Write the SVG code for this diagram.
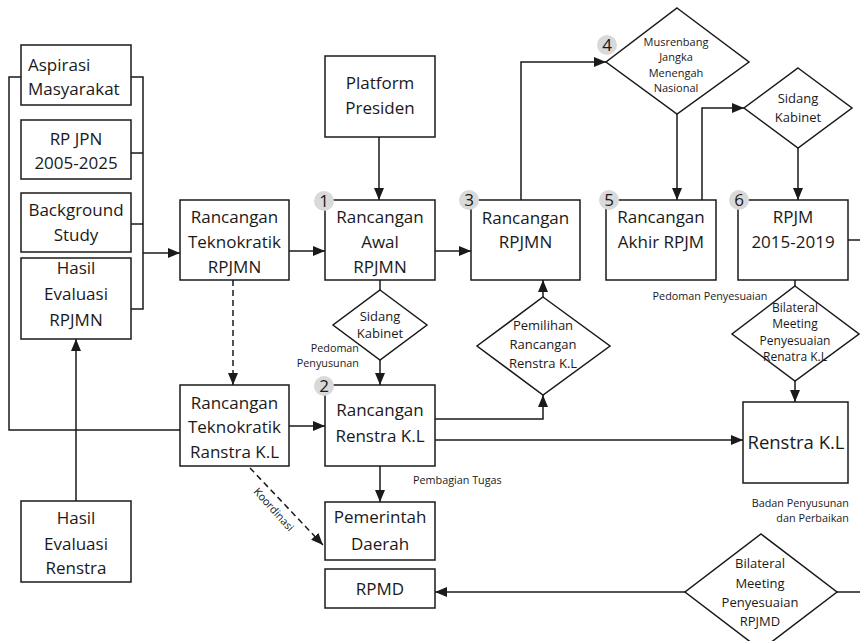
<svg xmlns="http://www.w3.org/2000/svg" width="860" height="641" viewBox="0 0 860 641">
  <style>
    .box { fill: #ffffff; stroke: #1a1a1a; stroke-width: 1.5; }
    .dia { fill: #ffffff; stroke: #1a1a1a; stroke-width: 1.5; }
    .ln { fill: none; stroke: #1a1a1a; stroke-width: 1.5; }
    .dash { stroke-dasharray: 6 4; }
    text { font-family: "Open Sans", "Noto Sans", sans-serif; fill: #1a1a1a; }
    .t { font-size: 17px; text-anchor: middle; }
    .tl { font-size: 17px; text-anchor: start; }
    .big { font-size: 18.5px; text-anchor: middle; }
    .d13 { font-size: 13px; text-anchor: middle; }
    .d12 { font-size: 12px; text-anchor: middle; }
    .d11 { font-size: 11px; text-anchor: middle; }
    .lbl { font-size: 10.8px; }
    .badge { fill: #d9d9d9; }
    .bn { font-size: 17px; text-anchor: middle; }
  </style>
  <defs>
    <marker id="arrow" viewBox="0 0 12 10" refX="12" refY="5" markerWidth="12" markerHeight="10" markerUnits="userSpaceOnUse" orient="auto">
      <path d="M0,0 L12,5 L0,10 z" fill="#1a1a1a"/>
    </marker>
  </defs>

  <!-- connectors -->
  <g id="connectors">
    <path class="ln" d="M21,77 H9 V430 H180"/>
    <path class="ln" d="M131,77 H143 V309 H131 M131,153 H143 M131,224 H143"/>
    <path class="ln" d="M143,253 H180" marker-end="url(#arrow)"/>
    <path class="ln" d="M76,501 V339" marker-end="url(#arrow)"/>
    <path class="ln" d="M289,251 H325" marker-end="url(#arrow)"/>
    <path class="ln" d="M379,137 V200" marker-end="url(#arrow)"/>
    <path class="ln" d="M435,251 H471" marker-end="url(#arrow)"/>
    <path class="ln" d="M521,200 V62 H606" marker-end="url(#arrow)"/>
    <path class="ln" d="M677,114 V200" marker-end="url(#arrow)"/>
    <path class="ln" d="M702,200 V108 H744" marker-end="url(#arrow)"/>
    <path class="ln" d="M798,148 V200" marker-end="url(#arrow)"/>
    <path class="ln" d="M848,240 H860"/>
    <path class="ln" d="M380,280 V290"/>
    <path class="ln" d="M380,360 V385" marker-end="url(#arrow)"/>
    <path class="ln dash" d="M233,280 V385" marker-end="url(#arrow)"/>
    <path class="ln" d="M289,426 H325" marker-end="url(#arrow)"/>
    <path class="ln" d="M543,297 V280" marker-end="url(#arrow)"/>
    <path class="ln" d="M435,419 H543 V395" marker-end="url(#arrow)"/>
    <path class="ln" d="M435,440 H743" marker-end="url(#arrow)"/>
    <path class="ln" d="M795,280 V286"/>
    <path class="ln" d="M795,381 V402" marker-end="url(#arrow)"/>
    <path class="ln" d="M380,466 V502" marker-end="url(#arrow)"/>
    <path class="ln dash" d="M250,468 L323,545" marker-end="url(#arrow)"/>
    <path class="ln" d="M685,592 H435" marker-end="url(#arrow)"/>
    <path class="ln" d="M837,592 H860"/>
  </g>

  <!-- connector labels -->
  <g id="labels">
    <text class="lbl" x="359" y="352" text-anchor="end">Pedoman</text>
    <text class="lbl" x="359" y="367" text-anchor="end">Penyusunan</text>
    <text class="lbl" x="413" y="484">Pembagian Tugas</text>
    <text class="lbl" x="710" y="300" text-anchor="middle">Pedoman Penyesuaian</text>
    <text class="lbl" x="849" y="507" text-anchor="end">Badan Penyusunan</text>
    <text class="lbl" x="849" y="522" text-anchor="end">dan Perbaikan</text>
    <text class="lbl" x="0" y="0" text-anchor="middle" transform="translate(271,512) rotate(48)">Koordinasi</text>
  </g>

  <!-- left input column -->
  <g id="aspirasi">
    <rect class="box" x="21" y="45" width="110" height="60"/>
    <text class="tl" x="28" y="71">Aspirasi</text>
    <text class="tl" x="28" y="95">Masyarakat</text>
  </g>
  <g id="rpjpn">
    <rect class="box" x="21" y="120" width="110" height="59"/>
    <text class="t" x="76" y="145">RP JPN</text>
    <text class="t" x="76" y="169">2005-2025</text>
  </g>
  <g id="background">
    <rect class="box" x="21" y="193" width="110" height="59"/>
    <text class="t" x="76" y="216">Background</text>
    <text class="t" x="76" y="241">Study</text>
  </g>
  <g id="evaluasi-rpjmn">
    <rect class="box" x="21" y="258" width="110" height="81"/>
    <text class="t" x="76" y="274">Hasil</text>
    <text class="t" x="76" y="300">Evaluasi</text>
    <text class="t" x="76" y="326">RPJMN</text>
  </g>
  <g id="evaluasi-renstra">
    <rect class="box" x="21" y="501" width="110" height="81"/>
    <text class="t" x="76" y="524">Hasil</text>
    <text class="t" x="76" y="550">Evaluasi</text>
    <text class="t" x="76" y="574">Renstra</text>
  </g>

  <!-- technocratic drafts -->
  <g id="teknokratik-rpjmn">
    <rect class="box" x="180" y="200" width="109" height="80"/>
    <text class="t" x="234.5" y="223">Rancangan</text>
    <text class="t" x="234.5" y="248">Teknokratik</text>
    <text class="t" x="234.5" y="273">RPJMN</text>
  </g>
  <g id="teknokratik-renstra">
    <rect class="box" x="180" y="385" width="109" height="81"/>
    <text class="t" x="234.5" y="409">Rancangan</text>
    <text class="t" x="234.5" y="433">Teknokratik</text>
    <text class="t" x="234.5" y="458">Ranstra K.L</text>
  </g>

  <!-- national track -->
  <g id="platform">
    <rect class="box" x="325" y="56" width="110" height="81"/>
    <text class="t" x="380" y="89">Platform</text>
    <text class="t" x="380" y="114">Presiden</text>
  </g>
  <g id="awal">
    <rect class="box" x="325" y="200" width="110" height="80"/>
    <text class="t" x="380" y="223">Rancangan</text>
    <text class="t" x="380" y="248">Awal</text>
    <text class="t" x="380" y="273">RPJMN</text>
    <circle class="badge" cx="324" cy="201" r="10"/>
    <text class="bn" x="324" y="207">1</text>
  </g>
  <g id="rancangan-rpjmn">
    <rect class="box" x="471" y="200" width="109" height="80"/>
    <text class="t" x="525.5" y="224">Rancangan</text>
    <text class="t" x="525.5" y="248">RPJMN</text>
    <circle class="badge" cx="469" cy="200" r="10"/>
    <text class="bn" x="469" y="206">3</text>
  </g>
  <g id="musrenbang">
    <polygon class="dia" points="677,8 749,62 677,114 606,62"/>
    <text class="d11" x="676" y="46">Musrenbang</text>
    <text class="d11" x="676" y="61">Jangka</text>
    <text class="d11" x="676" y="77">Menengah</text>
    <text class="d11" x="676" y="92">Nasional</text>
    <circle class="badge" cx="607" cy="45" r="10"/>
    <text class="bn" x="607" y="51">4</text>
  </g>
  <g id="akhir">
    <rect class="box" x="606" y="200" width="110" height="80"/>
    <text class="t" x="661" y="223">Rancangan</text>
    <text class="t" x="661" y="248">Akhir RPJM</text>
    <circle class="badge" cx="609" cy="200" r="10"/>
    <text class="bn" x="609" y="206">5</text>
  </g>
  <g id="sidang-kabinet-1">
    <polygon class="dia" points="798,68 852,108 798,148 744,108"/>
    <text class="d13" x="798" y="103">Sidang</text>
    <text class="d13" x="798" y="122">Kabinet</text>
  </g>
  <g id="rpjm">
    <rect class="box" x="738" y="200" width="110" height="80"/>
    <text class="t" x="793" y="223">RPJM</text>
    <text class="t" x="793" y="248">2015-2019</text>
    <circle class="badge" cx="739" cy="200" r="10"/>
    <text class="bn" x="739" y="206">6</text>
  </g>

  <!-- ministry / regional track -->
  <g id="sidang-kabinet-2">
    <polygon class="dia" points="380,290 427,325 380,360 333,325"/>
    <text class="d13" x="380" y="321">Sidang</text>
    <text class="d13" x="380" y="338">Kabinet</text>
  </g>
  <g id="renstra-draft">
    <rect class="box" x="325" y="385" width="110" height="81"/>
    <text class="t" x="380" y="416">Rancangan</text>
    <text class="t" x="380" y="442">Renstra K.L</text>
    <circle class="badge" cx="324" cy="386" r="10"/>
    <text class="bn" x="324" y="392">2</text>
  </g>
  <g id="pemilihan">
    <polygon class="dia" points="543,297 610,346 543,395 477,346"/>
    <text class="d13" x="543" y="330">Pemilihan</text>
    <text class="d13" x="543" y="349">Rancangan</text>
    <text class="d13" x="543" y="368">Renstra K.L</text>
  </g>
  <g id="bilateral-renstra">
    <polygon class="dia" points="795,286 859,334 795,381 732,334"/>
    <text class="d12" x="795" y="312">Bilateral</text>
    <text class="d12" x="795" y="328">Meeting</text>
    <text class="d12" x="795" y="345">Penyesuaian</text>
    <text class="d12" x="795" y="361">Renatra K.L</text>
  </g>
  <g id="renstra">
    <rect class="box" x="743" y="402" width="105" height="81"/>
    <text class="big" x="796" y="449">Renstra K.L</text>
  </g>
  <g id="pemda">
    <rect class="box" x="325" y="502" width="110" height="58"/>
    <text class="t" x="380" y="523">Pemerintah</text>
    <text class="t" x="380" y="550">Daerah</text>
  </g>
  <g id="rpmd">
    <rect class="box" x="325" y="569" width="110" height="39"/>
    <text class="t" x="380" y="595">RPMD</text>
  </g>
  <g id="bilateral-rpjmd">
    <polygon class="dia" points="761,534 837,592 761,650 685,592"/>
    <text class="d13" x="760" y="568">Bilateral</text>
    <text class="d13" x="760" y="588">Meeting</text>
    <text class="d13" x="760" y="607">Penyesuaian</text>
    <text class="d13" x="760" y="626">RPJMD</text>
  </g>
</svg>
